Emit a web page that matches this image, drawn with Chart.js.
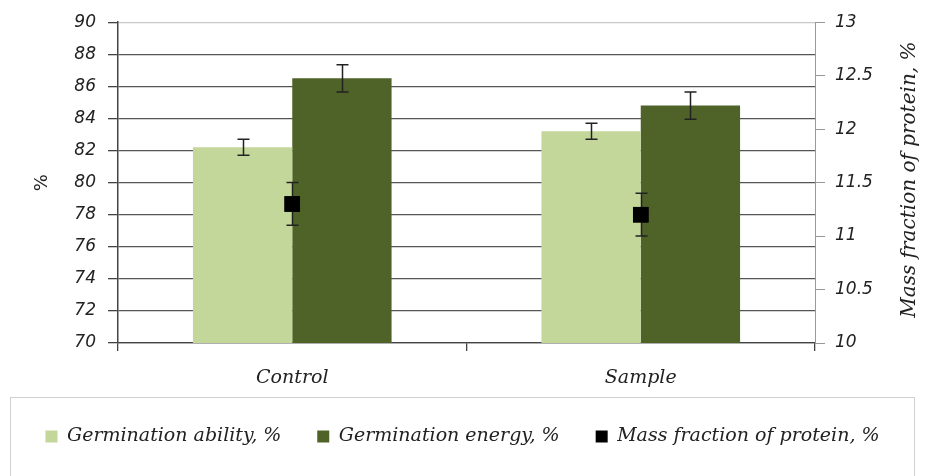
<!DOCTYPE html>
<html>
<head>
<meta charset="utf-8">
<title>Germination and protein</title>
<script src="https://cdn.jsdelivr.net/npm/chart.js@4/dist/chart.umd.min.js"></script>
<style>
  html, body { margin: 0; padding: 0; background: #fff; }
  #wrap { width: 925px; height: 476px; }
</style>
</head>
<body>
<div id="wrap"><canvas id="chart" width="925" height="476"></canvas></div>
<script>
// Categories and measured values
const categories = ['Control', 'Sample'];
const germinationAbility = [82.2, 83.2];
const germinationAbilityErr = [0.5, 0.5];
const germinationEnergy = [86.5, 84.8];
const germinationEnergyErr = [0.85, 0.85];
const proteinFraction = [11.3, 11.2];
const proteinFractionErr = [0.2, 0.2];

const seriesNames = ['Germination ability, %', 'Germination energy, %', 'Mass fraction of protein, %'];
const rightAxisTitle = 'Mass fraction of protein, %';

const tickFont = { family: 'DejaVu Sans', size: 17, style: 'italic' };
const serifFont = { family: 'DejaVu Serif', size: 19, style: 'italic' };

// Whisker drawing for datasets carrying an `errors` array
const errorBars = {
  id: 'errorBars',
  afterDatasetsDraw(chart) {
    const ctx = chart.ctx;
    chart.data.datasets.forEach((ds, i) => {
      if (!ds.errors) return;
      const meta = chart.getDatasetMeta(i);
      const yScale = chart.scales[meta.yAxisID];
      meta.data.forEach((el, j) => {
        const v = ds.data[j], e = ds.errors[j];
        const x = Math.round(el.x) + 0.5;
        const yHi = yScale.getPixelForValue(v + e);
        const yLo = yScale.getPixelForValue(v - e);
        ctx.save();
        ctx.strokeStyle = '#222';
        ctx.lineWidth = 1.5;
        ctx.beginPath();
        ctx.moveTo(x, yHi); ctx.lineTo(x, yLo);
        ctx.moveTo(x - 6, yHi); ctx.lineTo(x + 6, yHi);
        ctx.moveTo(x - 6, yLo); ctx.lineTo(x + 6, yLo);
        ctx.stroke();
        ctx.restore();
      });
      // redraw the markers of point series over their whiskers
      if (meta.type === 'line') meta.data.forEach(el => el.draw(ctx, chart.chartArea));
    });
  }
};

// Right-hand axis title, read from bottom to top
const rightTitle = {
  id: 'rightTitle',
  afterDraw(chart) {
    const ctx = chart.ctx;
    const a = chart.chartArea;
    const s = chart.scales.y2;
    ctx.save();
    ctx.translate(s.right - 15, (a.top + a.bottom) / 2 - 3);
    ctx.rotate(-Math.PI / 2);
    ctx.font = 'italic 20px "DejaVu Serif"';
    ctx.fillStyle = '#222';
    ctx.textAlign = 'center';
    ctx.textBaseline = 'middle';
    ctx.fillText(rightAxisTitle, 0, 0);
    ctx.restore();
  }
};

// Thin frame around the legend
const legendFrame = {
  id: 'legendFrame',
  afterDraw(chart) {
    const lg = chart.legend;
    const ctx = chart.ctx;
    ctx.save();
    ctx.strokeStyle = '#d0d0d0';
    ctx.lineWidth = 1;
    ctx.strokeRect(10.5, lg.top + 6.5, chart.width - 21, chart.height);
    ctx.restore();
  }
};

new Chart(document.getElementById('chart'), {
  data: {
    labels: categories,
    datasets: [
      {
        type: 'bar',
        label: seriesNames[0],
        data: germinationAbility,
        errors: germinationAbilityErr,
        backgroundColor: '#c4d79b',
        borderWidth: 0,
        yAxisID: 'y',
        order: 1
      },
      {
        type: 'bar',
        label: seriesNames[1],
        data: germinationEnergy,
        errors: germinationEnergyErr,
        backgroundColor: '#4f6228',
        borderWidth: 0,
        yAxisID: 'y',
        order: 1
      },
      {
        type: 'line',
        label: seriesNames[2],
        data: proteinFraction,
        errors: proteinFractionErr,
        showLine: false,
        pointStyle: 'rect',
        pointRadius: 11,
        pointHoverRadius: 11,
        pointBorderWidth: 0,
        backgroundColor: '#000',
        borderColor: '#000',
        borderWidth: 0,
        yAxisID: 'y2',
        order: 0
      }
    ]
  },
  options: {
    responsive: false,
    animation: false,
    events: [],
    layout: { padding: { left: 0, right: 0, top: 22, bottom: 20 } },
    datasets: {
      bar: { categoryPercentage: 0.57, barPercentage: 1.0 }
    },
    scales: {
      x: {
        type: 'category',
        offset: true,
        grid: { offset: true, drawOnChartArea: false, tickLength: 8, color: '#444', lineWidth: 1.3 },
        border: { display: true, color: '#444', width: 1.3 },
        ticks: { font: serifFont, color: '#222', padding: 16 },
        afterFit(scale) { scale.height = 48; }
      },
      y: {
        position: 'left',
        min: 70, max: 90,
        ticks: { stepSize: 2, font: tickFont, color: '#222', padding: 12 },
        grid: {
          color: c => (c.tick && c.tick.value === 90) ? '#c8c8c8' : '#555',
          tickColor: '#444',
          lineWidth: 1.3,
          tickLength: 10
        },
        border: { display: true, color: '#444', width: 1.5 },
        title: { display: true, text: '%', font: { family: 'DejaVu Sans', size: 18 }, color: '#222', padding: { top: 32 } },
        afterFit(scale) { scale.width = 118; }
      },
      y2: {
        position: 'right',
        min: 10, max: 13,
        ticks: {
          stepSize: 0.5, font: tickFont, color: '#222', padding: 10,
          callback: v => String(Number(v))
        },
        grid: { drawOnChartArea: false, tickLength: 10, color: '#999', lineWidth: 1 },
        border: { display: true, color: '#999', width: 1 },
        afterFit(scale) { scale.width = 110; }
      }
    },
    plugins: {
      legend: {
        position: 'bottom',
        labels: {
          boxWidth: 12,
          boxHeight: 12,
          padding: 36,
          font: { family: 'DejaVu Serif', size: 19, style: 'italic' },
          color: '#222',
          sort: (a, b) => a.datasetIndex - b.datasetIndex
        }
      },
      tooltip: { enabled: false }
    }
  },
  plugins: [errorBars, rightTitle, legendFrame]
});
</script>
</body>
</html>
